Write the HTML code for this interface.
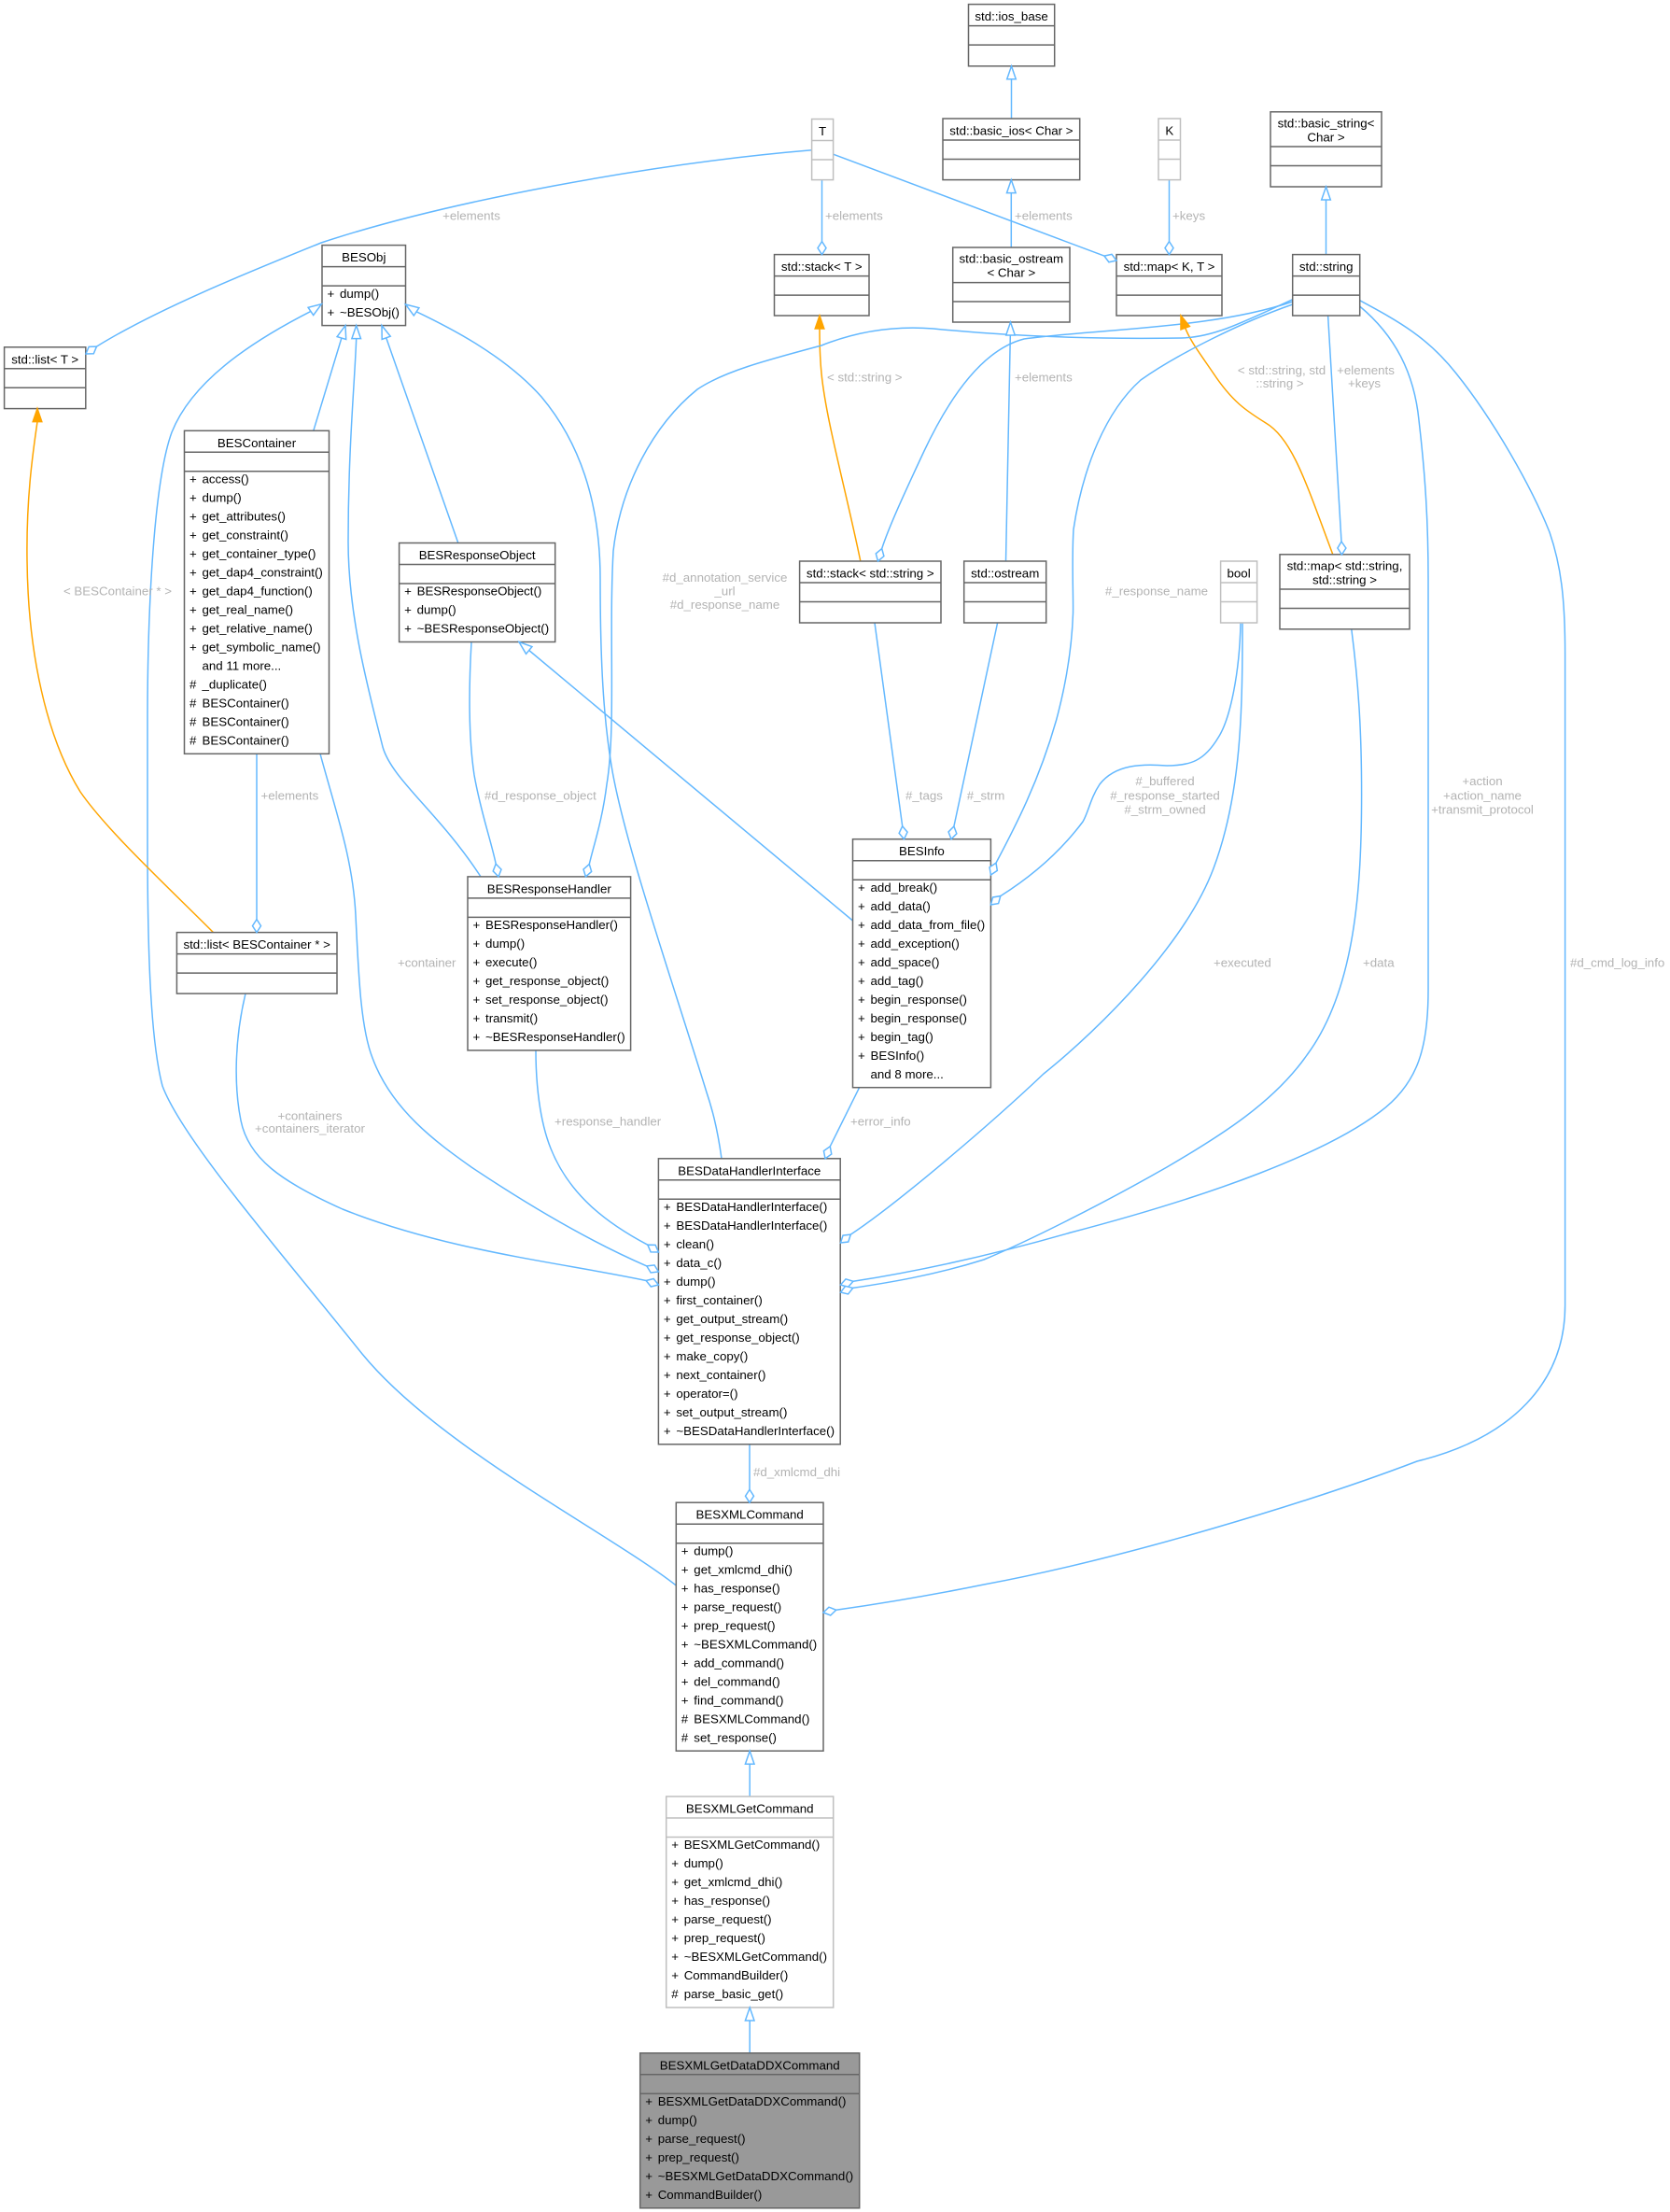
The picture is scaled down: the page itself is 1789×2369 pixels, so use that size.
<!DOCTYPE html>
<html><head><meta charset="utf-8"><style>
html,body{margin:0;padding:0;background:#fff;}
svg{display:block;}
text{font-family:"Liberation Sans",Arial,sans-serif;font-size:13.3px;}
.n text{fill:#000;}
.lb{fill:#b3b3b3;}
.b{fill:#fff;stroke:#666;stroke-width:1.5;}
.g{fill:#fff;stroke:#bfbfbf;stroke-width:1.5;}
.s{stroke:#666;stroke-width:1.5;}
.sg{stroke:#bfbfbf;stroke-width:1.5;}
.e{fill:none;stroke:#63b8ff;stroke-width:1.5;}
.o{fill:none;stroke:#ffa500;stroke-width:1.5;}
.ah{fill:#fff;stroke:#63b8ff;stroke-width:1.5;}
.oh{fill:#ffa500;stroke:#ffa500;stroke-width:1.5;}
</style></head><body>
<svg width="1789" height="2369" viewBox="0 0 1789 2369" xmlns="http://www.w3.org/2000/svg">
<rect x="0" y="0" width="1789" height="2369" fill="#fff"/>

<!-- ===== EDGES ===== -->
<g>
<path class="e" d="M1083.5,127 L1083.5,84.8"/>
<path class="e" d="M1083.3,265 L1083.3,206.6"/>
<path class="e" d="M1077.5,601 L1082.3,359"/>
<path class="e" d="M1420.5,272.6 L1420.5,214"/>
<path class="e" d="M335.8,461.3 L365.9,362"/>
<path class="e" d="M490.8,581.5 L413.7,361.8"/>
<path class="e" d="M515,938.9 C470,870 420,835 410,800 C395,740 373,660 373,580 C373,480 380,410 381.7,362.6"/>
<path class="e" d="M773,1240.8 C768,1205 762,1185 757,1170 C720,1050 668,900 655,820 C645,760 643,690 643,620 C643,540 622,475 580,425 C540,380 480,350 446.1,333.8"/>
<path class="e" d="M724.3,1698 C650,1640 470,1550 388,1450 C300,1340 195,1220 174,1163 C160,1110 158,1000 158,900 L158,771 C158,650 165,515 184,463 C205,410 265,368 332.9,333.4"/>
<path class="e" d="M913.5,986 L566.75,696.5"/>
<path class="e" d="M803.2,1924 L803.2,1889.2"/>
<path class="e" d="M803.2,2198.8 L803.2,2164"/>

<path class="o" d="M228.5,998.6 C180,950 115,890 86,848 C50,790 30,700 29,600 C28,530 36,480 40,451.6"/>
<path class="o" d="M921.8,601 C905,520 885,450 880,400 C878,380 878,365 878,352"/>
<path class="o" d="M1428,594.3 C1400,520 1385,470 1356,453 C1335,440 1320,430 1300,400 C1285,378 1275,365 1269.7,351.2"/>

<path class="e" d="M869.6,160.8 C700,175 480,215 344,260 C270,290 170,330 103.5,371.1"/>
<path class="e" d="M880.5,192.6 L880.5,258.6"/>
<path class="e" d="M891.3,164.7 L1182.9,274.1"/>
<path class="e" d="M1252.5,192.6 L1252.5,258.6"/>
<path class="e" d="M1384.7,323 C1300,352 1180,352 1097,363 C1050,375 1015,430 990,483 C968,530 952,565 944.7,587.6"/>
<path class="e" d="M1384.7,320.7 C1330,346 1300,361 1266,362 C1200,363 1100,362 1000,352 C950,348 910,358 880,370 C820,386 775,398 747,417 C700,455 665,520 657,590 C652,680 660,780 650,840 C645,880 636,905 631.3,925.5"/>
<path class="e" d="M1384.7,326 C1330,345 1260,380 1222,407 C1185,440 1160,500 1150,567 C1148,600 1150,640 1149.5,657 C1148,700 1140,740 1131.5,771.5 C1112,840 1085,890 1067,924.2"/>
<path class="e" d="M1422.6,338 L1437,580"/>
<path class="e" d="M1456.6,328 C1495,360 1515,400 1520,450 C1527,510 1530,560 1530,620 L1530,1060 C1530,1120 1520,1160 1478,1191 C1420,1235 1300,1280 1147,1320 C1060,1345 980,1362 914,1372.3"/>
<path class="e" d="M1456.6,321.7 C1500,345 1530,362 1560,400 C1600,450 1640,520 1660,570 C1672,605 1676.6,640 1676.6,700 L1676.6,1398 C1676.6,1480 1620,1540 1518,1565 C1400,1610 1200,1670 1054,1697 C990,1710 940,1718 895.7,1724.25"/>
<path class="e" d="M1329,667 C1328,720 1318,770 1305,790 C1290,815 1275,820 1250,820 C1225,818 1195,818 1178,840 C1168,855 1166,870 1160,880 C1130,920 1095,945 1071.8,959.6"/>
<path class="e" d="M1331,667 C1331,760 1330,850 1300,930 C1270,1010 1180,1100 1118,1150 C1060,1205 960,1290 911.3,1322.1"/>
<path class="e" d="M1447.8,673.8 C1455,730 1458.6,780 1458.6,850 C1458.6,950 1452,1060 1400,1130 C1365,1180 1310,1215 1250,1250 C1180,1290 1100,1330 1054,1349 C1000,1366 950,1374 913.7,1379.4"/>
<path class="e" d="M937,667 L966.7,884.8"/>
<path class="e" d="M1068.6,667 L1021.9,885"/>
<path class="e" d="M505,687.5 C502,740 502,790 508,830 C515,870 526,900 531.2,925.2"/>
<path class="e" d="M275,807.3 L275,984.6"/>
<path class="e" d="M263,1064 C252,1110 250,1160 258,1200 C266,1240 300,1265 367,1295 C480,1340 600,1352 692.1,1371.5"/>
<path class="e" d="M343,807.3 C360,870 378,920 381,980 C384,1040 386,1100 399,1133 C420,1190 470,1225 505,1250 C580,1300 640,1333 692.8,1355.9"/>
<path class="e" d="M574,1124.9 C574,1160 578,1200 590,1230 C610,1280 650,1310 693.8,1333.2"/>
<path class="e" d="M920.6,1164.7 L889.25,1227.8"/>
<path class="e" d="M803,1546.8 L803,1595.2"/>
</g>

<!-- ===== NODES ===== -->
<g class="n">
<!-- std::ios_base -->
<rect class="b" x="1037.5" y="4.6" width="92.2" height="66.2"/>
<line class="s" x1="1037.5" y1="27.6" x2="1129.7" y2="27.6"/><line class="s" x1="1037.5" y1="48.1" x2="1129.7" y2="48.1"/>
<text x="1083.6" y="22.1" text-anchor="middle">std::ios_base</text>

<!-- std::basic_ios -->
<rect class="b" x="1010" y="127" width="146.7" height="65.6"/>
<line class="s" x1="1010" y1="150" x2="1156.7" y2="150"/><line class="s" x1="1010" y1="170.5" x2="1156.7" y2="170.5"/>
<text x="1083.4" y="144.5" text-anchor="middle">std::basic_ios&lt; Char &gt;</text>

<!-- T -->
<rect class="g" x="869.6" y="127.5" width="23" height="65.1"/>
<line class="sg" x1="869.6" y1="150.5" x2="892.6" y2="150.5"/><line class="sg" x1="869.6" y1="171" x2="892.6" y2="171"/>
<text x="881.1" y="145" text-anchor="middle">T</text>

<!-- K -->
<rect class="g" x="1241" y="127" width="23.5" height="65.6"/>
<line class="sg" x1="1241" y1="150" x2="1264.5" y2="150"/><line class="sg" x1="1241" y1="170.5" x2="1264.5" y2="170.5"/>
<text x="1252.75" y="144.5" text-anchor="middle">K</text>

<!-- std::basic_string -->
<rect class="b" x="1361" y="119.8" width="119" height="80.2"/>
<line class="s" x1="1361" y1="157" x2="1480" y2="157"/><line class="s" x1="1361" y1="177.5" x2="1480" y2="177.5"/>
<text x="1420.5" y="136.5" text-anchor="middle">std::basic_string&lt;</text>
<text x="1420.5" y="151.5" text-anchor="middle">Char &gt;</text>

<!-- BESObj -->
<rect class="b" x="345" y="262.6" width="89.5" height="86"/>
<line class="s" x1="345" y1="285.6" x2="434.5" y2="285.6"/><line class="s" x1="345" y1="306.1" x2="434.5" y2="306.1"/>
<text x="389.75" y="280.1" text-anchor="middle">BESObj</text>
<text x="350.5" y="318.8">+</text><text x="364" y="318.8">dump()</text>
<text x="350.5" y="338.8">+</text><text x="364" y="338.8">~BESObj()</text>

<!-- std::stack<T> -->
<rect class="b" x="829.5" y="272.6" width="101.5" height="65.4"/>
<line class="s" x1="829.5" y1="295.6" x2="931" y2="295.6"/><line class="s" x1="829.5" y1="316.1" x2="931" y2="316.1"/>
<text x="880.25" y="290.1" text-anchor="middle">std::stack&lt; T &gt;</text>

<!-- std::basic_ostream -->
<rect class="b" x="1020.7" y="265" width="125.3" height="80"/>
<line class="s" x1="1020.7" y1="302.6" x2="1146" y2="302.6"/><line class="s" x1="1020.7" y1="323" x2="1146" y2="323"/>
<text x="1083.35" y="281.7" text-anchor="middle">std::basic_ostream</text>
<text x="1083.35" y="296.7" text-anchor="middle">&lt; Char &gt;</text>

<!-- std::map<K,T> -->
<rect class="b" x="1196" y="272.6" width="113" height="65.4"/>
<line class="s" x1="1196" y1="295.6" x2="1309" y2="295.6"/><line class="s" x1="1196" y1="316.1" x2="1309" y2="316.1"/>
<text x="1252.5" y="290.1" text-anchor="middle">std::map&lt; K, T &gt;</text>

<!-- std::string -->
<rect class="b" x="1384.7" y="272.6" width="72" height="65.4"/>
<line class="s" x1="1384.7" y1="295.6" x2="1456.7" y2="295.6"/><line class="s" x1="1384.7" y1="316.1" x2="1456.7" y2="316.1"/>
<text x="1420.7" y="290.1" text-anchor="middle">std::string</text>

<!-- std::list<T> -->
<rect class="b" x="4.6" y="371.8" width="87.2" height="65.8"/>
<line class="s" x1="4.6" y1="394.8" x2="91.8" y2="394.8"/><line class="s" x1="4.6" y1="415.3" x2="91.8" y2="415.3"/>
<text x="48.2" y="389.3" text-anchor="middle">std::list&lt; T &gt;</text>

<!-- BESContainer -->
<rect class="b" x="197.5" y="461.3" width="155" height="346"/>
<line class="s" x1="197.5" y1="484.3" x2="352.5" y2="484.3"/><line class="s" x1="197.5" y1="504.8" x2="352.5" y2="504.8"/>
<text x="275" y="478.8" text-anchor="middle">BESContainer</text>
<text x="203" y="517.5">+</text><text x="216.5" y="517.5">access()</text>
<text x="203" y="537.5">+</text><text x="216.5" y="537.5">dump()</text>
<text x="203" y="557.5">+</text><text x="216.5" y="557.5">get_attributes()</text>
<text x="203" y="577.5">+</text><text x="216.5" y="577.5">get_constraint()</text>
<text x="203" y="597.5">+</text><text x="216.5" y="597.5">get_container_type()</text>
<text x="203" y="617.5">+</text><text x="216.5" y="617.5">get_dap4_constraint()</text>
<text x="203" y="637.5">+</text><text x="216.5" y="637.5">get_dap4_function()</text>
<text x="203" y="657.5">+</text><text x="216.5" y="657.5">get_real_name()</text>
<text x="203" y="677.5">+</text><text x="216.5" y="677.5">get_relative_name()</text>
<text x="203" y="697.5">+</text><text x="216.5" y="697.5">get_symbolic_name()</text>
<text x="216.5" y="717.5">and 11 more...</text>
<text x="203" y="737.5">#</text><text x="216.5" y="737.5">_duplicate()</text>
<text x="203" y="757.5">#</text><text x="216.5" y="757.5">BESContainer()</text>
<text x="203" y="777.5">#</text><text x="216.5" y="777.5">BESContainer()</text>
<text x="203" y="797.5">#</text><text x="216.5" y="797.5">BESContainer()</text>

<!-- BESResponseObject -->
<rect class="b" x="427.6" y="581.5" width="167.1" height="106"/>
<line class="s" x1="427.6" y1="604.5" x2="594.7" y2="604.5"/><line class="s" x1="427.6" y1="625" x2="594.7" y2="625"/>
<text x="511.15" y="599" text-anchor="middle">BESResponseObject</text>
<text x="433.1" y="637.7">+</text><text x="446.6" y="637.7">BESResponseObject()</text>
<text x="433.1" y="657.7">+</text><text x="446.6" y="657.7">dump()</text>
<text x="433.1" y="677.7">+</text><text x="446.6" y="677.7">~BESResponseObject()</text>

<!-- std::stack<std::string> -->
<rect class="b" x="856.6" y="601" width="151.4" height="66"/>
<line class="s" x1="856.6" y1="624" x2="1008" y2="624"/><line class="s" x1="856.6" y1="644.5" x2="1008" y2="644.5"/>
<text x="932.3" y="618.5" text-anchor="middle">std::stack&lt; std::string &gt;</text>

<!-- std::ostream -->
<rect class="b" x="1032.7" y="601" width="88" height="66"/>
<line class="s" x1="1032.7" y1="624" x2="1120.7" y2="624"/><line class="s" x1="1032.7" y1="644.5" x2="1120.7" y2="644.5"/>
<text x="1076.7" y="618.5" text-anchor="middle">std::ostream</text>

<!-- bool -->
<rect class="g" x="1307.6" y="601" width="39" height="66"/>
<line class="sg" x1="1307.6" y1="624" x2="1346.6" y2="624"/><line class="sg" x1="1307.6" y1="644.5" x2="1346.6" y2="644.5"/>
<text x="1327.1" y="618.5" text-anchor="middle">bool</text>

<!-- std::map<std::string,std::string> -->
<rect class="b" x="1371" y="593.8" width="139" height="80"/>
<line class="s" x1="1371" y1="631" x2="1510" y2="631"/><line class="s" x1="1371" y1="651.5" x2="1510" y2="651.5"/>
<text x="1440.5" y="610.5" text-anchor="middle">std::map&lt; std::string,</text>
<text x="1440.5" y="625.5" text-anchor="middle">std::string &gt;</text>

<!-- BESResponseHandler -->
<rect class="b" x="501" y="938.9" width="174.6" height="186"/>
<line class="s" x1="501" y1="961.9" x2="675.6" y2="961.9"/><line class="s" x1="501" y1="982.4" x2="675.6" y2="982.4"/>
<text x="588.3" y="956.4" text-anchor="middle">BESResponseHandler</text>
<text x="506.5" y="995.1">+</text><text x="520" y="995.1">BESResponseHandler()</text>
<text x="506.5" y="1015.1">+</text><text x="520" y="1015.1">dump()</text>
<text x="506.5" y="1035.1">+</text><text x="520" y="1035.1">execute()</text>
<text x="506.5" y="1055.1">+</text><text x="520" y="1055.1">get_response_object()</text>
<text x="506.5" y="1075.1">+</text><text x="520" y="1075.1">set_response_object()</text>
<text x="506.5" y="1095.1">+</text><text x="520" y="1095.1">transmit()</text>
<text x="506.5" y="1115.1">+</text><text x="520" y="1115.1">~BESResponseHandler()</text>

<!-- BESInfo -->
<rect class="b" x="913.5" y="898.7" width="147.9" height="266"/>
<line class="s" x1="913.5" y1="921.7" x2="1061.4" y2="921.7"/><line class="s" x1="913.5" y1="942.2" x2="1061.4" y2="942.2"/>
<text x="987.45" y="916.2" text-anchor="middle">BESInfo</text>
<text x="919" y="954.9">+</text><text x="932.5" y="954.9">add_break()</text>
<text x="919" y="974.9">+</text><text x="932.5" y="974.9">add_data()</text>
<text x="919" y="994.9">+</text><text x="932.5" y="994.9">add_data_from_file()</text>
<text x="919" y="1014.9">+</text><text x="932.5" y="1014.9">add_exception()</text>
<text x="919" y="1034.9">+</text><text x="932.5" y="1034.9">add_space()</text>
<text x="919" y="1054.9">+</text><text x="932.5" y="1054.9">add_tag()</text>
<text x="919" y="1074.9">+</text><text x="932.5" y="1074.9">begin_response()</text>
<text x="919" y="1094.9">+</text><text x="932.5" y="1094.9">begin_response()</text>
<text x="919" y="1114.9">+</text><text x="932.5" y="1114.9">begin_tag()</text>
<text x="919" y="1134.9">+</text><text x="932.5" y="1134.9">BESInfo()</text>
<text x="932.5" y="1154.9">and 8 more...</text>

<!-- std::list<BESContainer*> -->
<rect class="b" x="189.4" y="998.6" width="171.6" height="65.5"/>
<line class="s" x1="189.4" y1="1021.6" x2="361" y2="1021.6"/><line class="s" x1="189.4" y1="1042.1" x2="361" y2="1042.1"/>
<text x="275.2" y="1016.1" text-anchor="middle">std::list&lt; BESContainer * &gt;</text>

<!-- BESDataHandlerInterface -->
<rect class="b" x="705.4" y="1240.8" width="194.8" height="306"/>
<line class="s" x1="705.4" y1="1263.8" x2="900.2" y2="1263.8"/><line class="s" x1="705.4" y1="1284.3" x2="900.2" y2="1284.3"/>
<text x="802.8" y="1258.3" text-anchor="middle">BESDataHandlerInterface</text>
<text x="710.9" y="1297">+</text><text x="724.4" y="1297">BESDataHandlerInterface()</text>
<text x="710.9" y="1317">+</text><text x="724.4" y="1317">BESDataHandlerInterface()</text>
<text x="710.9" y="1337">+</text><text x="724.4" y="1337">clean()</text>
<text x="710.9" y="1357">+</text><text x="724.4" y="1357">data_c()</text>
<text x="710.9" y="1377">+</text><text x="724.4" y="1377">dump()</text>
<text x="710.9" y="1397">+</text><text x="724.4" y="1397">first_container()</text>
<text x="710.9" y="1417">+</text><text x="724.4" y="1417">get_output_stream()</text>
<text x="710.9" y="1437">+</text><text x="724.4" y="1437">get_response_object()</text>
<text x="710.9" y="1457">+</text><text x="724.4" y="1457">make_copy()</text>
<text x="710.9" y="1477">+</text><text x="724.4" y="1477">next_container()</text>
<text x="710.9" y="1497">+</text><text x="724.4" y="1497">operator=()</text>
<text x="710.9" y="1517">+</text><text x="724.4" y="1517">set_output_stream()</text>
<text x="710.9" y="1537">+</text><text x="724.4" y="1537">~BESDataHandlerInterface()</text>

<!-- BESXMLCommand -->
<rect class="b" x="724.3" y="1609.2" width="157.7" height="266"/>
<line class="s" x1="724.3" y1="1632.2" x2="882" y2="1632.2"/><line class="s" x1="724.3" y1="1652.7" x2="882" y2="1652.7"/>
<text x="803.15" y="1626.7" text-anchor="middle">BESXMLCommand</text>
<text x="729.8" y="1665.4">+</text><text x="743.3" y="1665.4">dump()</text>
<text x="729.8" y="1685.4">+</text><text x="743.3" y="1685.4">get_xmlcmd_dhi()</text>
<text x="729.8" y="1705.4">+</text><text x="743.3" y="1705.4">has_response()</text>
<text x="729.8" y="1725.4">+</text><text x="743.3" y="1725.4">parse_request()</text>
<text x="729.8" y="1745.4">+</text><text x="743.3" y="1745.4">prep_request()</text>
<text x="729.8" y="1765.4">+</text><text x="743.3" y="1765.4">~BESXMLCommand()</text>
<text x="729.8" y="1785.4">+</text><text x="743.3" y="1785.4">add_command()</text>
<text x="729.8" y="1805.4">+</text><text x="743.3" y="1805.4">del_command()</text>
<text x="729.8" y="1825.4">+</text><text x="743.3" y="1825.4">find_command()</text>
<text x="729.8" y="1845.4">#</text><text x="743.3" y="1845.4">BESXMLCommand()</text>
<text x="729.8" y="1865.4">#</text><text x="743.3" y="1865.4">set_response()</text>

<!-- BESXMLGetCommand -->
<rect class="g" x="713.7" y="1924" width="179" height="226"/>
<line class="sg" x1="713.7" y1="1947" x2="892.7" y2="1947"/><line class="sg" x1="713.7" y1="1967.5" x2="892.7" y2="1967.5"/>
<text x="803.2" y="1941.5" text-anchor="middle">BESXMLGetCommand</text>
<text x="719.2" y="1980.2">+</text><text x="732.7" y="1980.2">BESXMLGetCommand()</text>
<text x="719.2" y="2000.2">+</text><text x="732.7" y="2000.2">dump()</text>
<text x="719.2" y="2020.2">+</text><text x="732.7" y="2020.2">get_xmlcmd_dhi()</text>
<text x="719.2" y="2040.2">+</text><text x="732.7" y="2040.2">has_response()</text>
<text x="719.2" y="2060.2">+</text><text x="732.7" y="2060.2">parse_request()</text>
<text x="719.2" y="2080.2">+</text><text x="732.7" y="2080.2">prep_request()</text>
<text x="719.2" y="2100.2">+</text><text x="732.7" y="2100.2">~BESXMLGetCommand()</text>
<text x="719.2" y="2120.2">+</text><text x="732.7" y="2120.2">CommandBuilder()</text>
<text x="719.2" y="2140.2">#</text><text x="732.7" y="2140.2">parse_basic_get()</text>

<!-- BESXMLGetDataDDXCommand -->
<rect x="685.7" y="2198.8" width="235" height="166" fill="#999999" stroke="#666" stroke-width="1.5"/>
<line class="s" x1="685.7" y1="2221.8" x2="920.7" y2="2221.8"/><line class="s" x1="685.7" y1="2242.3" x2="920.7" y2="2242.3"/>
<text x="803.2" y="2216.3" text-anchor="middle">BESXMLGetDataDDXCommand</text>
<text x="691.2" y="2255">+</text><text x="704.7" y="2255">BESXMLGetDataDDXCommand()</text>
<text x="691.2" y="2275">+</text><text x="704.7" y="2275">dump()</text>
<text x="691.2" y="2295">+</text><text x="704.7" y="2295">parse_request()</text>
<text x="691.2" y="2315">+</text><text x="704.7" y="2315">prep_request()</text>
<text x="691.2" y="2335">+</text><text x="704.7" y="2335">~BESXMLGetDataDDXCommand()</text>
<text x="691.2" y="2355">+</text><text x="704.7" y="2355">CommandBuilder()</text>
</g>

<!-- ===== ARROWHEADS ===== -->
<g>
<!-- inheritance hollow triangles -->
<polygon class="ah" points="1083.5,70.8 1088.3,84.8 1078.7,84.8"/>
<polygon class="ah" points="1083.3,192.6 1088.1,206.6 1078.5,206.6"/>
<polygon class="ah" points="1082.5,345 1087.3,359 1077.7,359"/>
<polygon class="ah" points="1420.5,200 1425.3,214 1415.7,214"/>
<polygon class="ah" points="370,348.6 370.7,363.5 361.1,360.6"/>
<polygon class="ah" points="409,348.6 418.2,360.2 409.2,363.4"/>
<polygon class="ah" points="381.7,348.6 386.5,362.6 376.9,362.6"/>
<polygon class="ah" points="434.5,326 448.9,329.7 443.3,338"/>
<polygon class="ah" points="344.5,325.6 335.7,337.6 330.1,329.3"/>
<polygon class="ah" points="556,687.5 569.95,692.6 563.55,700.3"/>
<polygon class="ah" points="803.2,1875.2 808,1889.2 798.4,1889.2"/>
<polygon class="ah" points="803.2,2150 808,2164 798.4,2164"/>
<!-- template orange -->
<polygon class="oh" points="40,437.6 44.8,451.6 35.2,451.6"/>
<polygon class="oh" points="878,338 882.8,352 873.2,352"/>
<polygon class="oh" points="1265,338 1274.4,349.5 1265,352.9"/>
<!-- aggregation diamonds -->
<polygon class="ah" points="92,379 100.3,378.75 103.5,371.1 95.2,371.35"/>
<polygon class="ah" points="880.5,272.6 885,265.6 880.5,258.6 876,265.6"/>
<polygon class="ah" points="1196,279 1191,272.35 1182.9,274.1 1187.9,280.75"/>
<polygon class="ah" points="1252.5,272.6 1257,265.6 1252.5,258.6 1248,265.6"/>
<polygon class="ah" points="940.5,601 946.9,595.65 944.7,587.6 938.3,592.95"/>
<polygon class="ah" points="627.4,938.9 633.67,933.46 631.3,925.5 625.03,930.94"/>
<polygon class="ah" points="1061.4,937 1068.33,932.4 1067,924.2 1060.07,928.8"/>
<polygon class="ah" points="1437.4,594 1441.9,587 1437,580 1432.9,587"/>
<polygon class="ah" points="900.5,1376 908.45,1378.5 914,1372.3 906.05,1369.8"/>
<polygon class="ah" points="882,1727 889.73,1730 895.7,1724.25 887.97,1721.2"/>
<polygon class="ah" points="1061.4,969 1069.6,967.64 1071.8,959.6 1063.6,960.96"/>
<polygon class="ah" points="900.5,1331 908.77,1330.02 911.3,1322.1 903.03,1323.08"/>
<polygon class="ah" points="900.5,1384 908.57,1385.95 913.7,1379.4 905.63,1377.45"/>
<polygon class="ah" points="968.5,898.7 972.06,891.17 966.7,884.8 963.14,892.33"/>
<polygon class="ah" points="1019,898.7 1024.85,892.79 1021.9,885 1016.05,890.91"/>
<polygon class="ah" points="534,938.9 537.01,931.15 531.2,925.2 528.19,932.95"/>
<polygon class="ah" points="275,998.6 279.5,991.6 275,984.6 270.5,991.6"/>
<polygon class="ah" points="705.4,1376 700.18,1369.48 692.1,1371.5 697.32,1378.02"/>
<polygon class="ah" points="705.4,1362 701.07,1354.9 692.8,1355.9 697.13,1363"/>
<polygon class="ah" points="705.4,1341 702.11,1333.36 693.8,1333.2 697.09,1340.84"/>
<polygon class="ah" points="884,1240.8 890.77,1235.99 889.25,1227.8 882.43,1232.61"/>
<polygon class="ah" points="803,1609.2 807.5,1602.2 803,1595.2 798.5,1602.2"/>
</g>

<!-- ===== EDGE LABELS ===== -->
<g class="lb">
<text x="505" y="235.5" text-anchor="middle">+elements</text>
<text x="884" y="235.5">+elements</text>
<text x="1087" y="235.5">+elements</text>
<text x="1256" y="235.5">+keys</text>
<text x="886" y="408.5">&lt; std::string &gt;</text>
<text x="1087" y="408.5">+elements</text>
<text x="1373" y="401.2" text-anchor="middle">&lt; std::string, std</text>
<text x="1371" y="415.2" text-anchor="middle">::string &gt;</text>
<text x="1463" y="401.2" text-anchor="middle">+elements</text>
<text x="1461.5" y="415.2" text-anchor="middle">+keys</text>
<text x="126" y="637.5" text-anchor="middle">&lt; BESContainer * &gt;</text>
<text x="776.5" y="622.8" text-anchor="middle">#d_annotation_service</text>
<text x="776.5" y="637.4" text-anchor="middle">_url</text>
<text x="776.5" y="651.9" text-anchor="middle">#d_response_name</text>
<text x="1239" y="637.5" text-anchor="middle">#_response_name</text>
<text x="279.5" y="856.5">+elements</text>
<text x="519" y="856.5">#d_response_object</text>
<text x="970" y="856.5">#_tags</text>
<text x="1035.7" y="856.5">#_strm</text>
<text x="1248" y="841.1" text-anchor="middle">#_buffered</text>
<text x="1248" y="856.5" text-anchor="middle">#_response_started</text>
<text x="1248" y="871.4" text-anchor="middle">#_strm_owned</text>
<text x="1588" y="841.1" text-anchor="middle">+action</text>
<text x="1588" y="856.5" text-anchor="middle">+action_name</text>
<text x="1588" y="871.4" text-anchor="middle">+transmit_protocol</text>
<text x="426" y="1035.5">+container</text>
<text x="1300" y="1035.5">+executed</text>
<text x="1460" y="1035.5">+data</text>
<text x="1682" y="1035.5">#d_cmd_log_info</text>
<text x="332" y="1199.4" text-anchor="middle">+containers</text>
<text x="332" y="1213.1" text-anchor="middle">+containers_iterator</text>
<text x="594" y="1205.5">+response_handler</text>
<text x="911" y="1205.5">+error_info</text>
<text x="807" y="1581">#d_xmlcmd_dhi</text>
</g>
</svg>
</body></html>
